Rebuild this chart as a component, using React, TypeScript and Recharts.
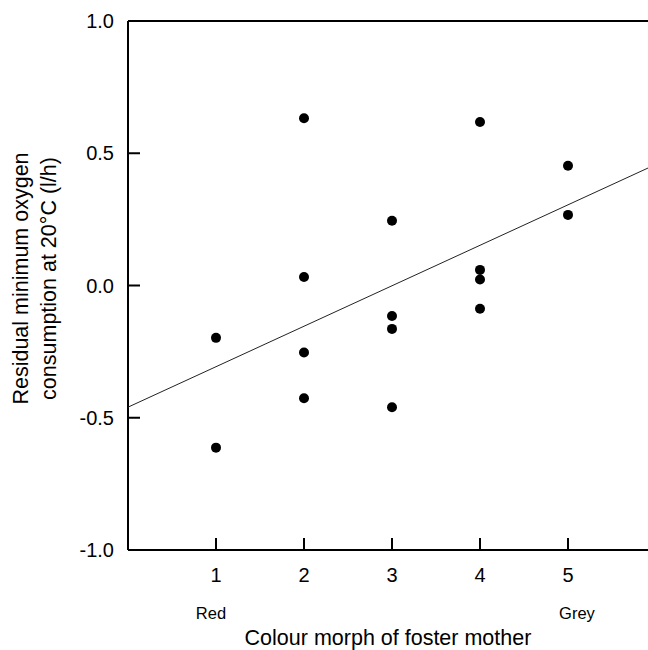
import React from 'react';
import { ComposedChart, XAxis, YAxis, Scatter, ReferenceLine, Label } from 'recharts';

// ---- data ----
const morphX: number[] = [1, 1, 2, 2, 2, 2, 3, 3, 3, 3, 4, 4, 4, 4, 5, 5];
const residualO2: number[] = [
  -0.198, -0.613,
  0.632, 0.032, -0.253, -0.426,
  0.245, -0.115, -0.164, -0.46,
  0.618, 0.059, 0.023, -0.088,
  0.453, 0.267,
];
const trendX: number[] = [0, 6];
const trendY: number[] = [-0.46, 0.458];
const xTicks: number[] = [1, 2, 3, 4, 5];
const yTicks: number[] = [-1, -0.5, 0, 0.5, 1];
const morphNames: string[] = ['Red', '', '', '', 'Grey'];

const points = morphX.map((x, i) => ({ x, y: residualO2[i] }));
const trend = trendX.map((x, i) => ({ x, y: trendY[i] }));

// ---- styles ----
const FONT = '"Liberation Sans", Arial, Helvetica, sans-serif';
const nameDx: Record<string, number> = { Red: -5, Grey: 9 };

const XTick = (props: any) => {
  const { x, y, payload } = props;
  const v = payload.value as number;
  const name = morphNames[v - 1] || '';
  return (
    <g>
      <text x={x} y={y + 14} textAnchor="middle" fontFamily={FONT} fontSize={20} fill="#000">
        {String(v)}
      </text>
      {name ? (
        <text x={x + (nameDx[name] || 0)} y={y + 51} textAnchor="middle" fontFamily={FONT} fontSize={16.5} fill="#000">
          {name}
        </text>
      ) : null}
    </g>
  );
};

const YTitle = (props: any) => {
  const vb = props.viewBox || { x: 0, y: 0, width: 0, height: 0 };
  const cy = vb.y + vb.height / 2 - 7;
  return (
    <g>
      <text transform={`translate(28, ${cy}) rotate(-90)`} textAnchor="middle" fontFamily={FONT} fontSize={21.5} fill="#000">
        Residual minimum oxygen
      </text>
      <text transform={`translate(56, ${cy}) rotate(-90)`} textAnchor="middle" fontFamily={FONT} fontSize={21.5} fill="#000">
        consumption at 20°C (l/h)
      </text>
    </g>
  );
};

const XTitle = (props: any) => {
  const vb = props.viewBox || { x: 0, y: 0, width: 0, height: 0 };
  return (
    <text x={388} y={vb.y + 95} textAnchor="middle" fontFamily={FONT} fontSize={21.5} fill="#000">
      Colour morph of foster mother
    </text>
  );
};

const Dot = (props: any) => <circle cx={props.cx} cy={props.cy} r={5} fill="#000" />;
const NoDot = () => <g />;

export default function App() {
  return (
    <div style={{ position: 'absolute', left: 0, top: 0, width: 648, height: 650, overflow: 'hidden', background: '#fff' }}>
      <ComposedChart width={656} height={650} margin={{ top: 21, right: 0, bottom: 0, left: 0 }}>
        <XAxis
          dataKey="x"
          type="number"
          domain={[0, 6]}
          ticks={xTicks}
          allowDataOverflow
          height={100}
          axisLine={{ stroke: '#000', strokeWidth: 2 }}
          tickLine={{ stroke: '#000', strokeWidth: 2 }}
          tickSize={-12}
          tickMargin={30}
          tick={<XTick />}
        >
          <Label content={<XTitle />} />
        </XAxis>
        <YAxis
          dataKey="y"
          type="number"
          domain={[-1, 1]}
          ticks={yTicks}
          allowDataOverflow
          width={128}
          axisLine={{ stroke: '#000', strokeWidth: 2 }}
          tickLine={{ stroke: '#000', strokeWidth: 2 }}
          tickSize={-12}
          tickMargin={26}
          tickFormatter={(v: number) => v.toFixed(1)}
          tick={{ fill: '#000', fontSize: 20, fontFamily: FONT }}
        >
          <Label content={<YTitle />} />
        </YAxis>
        <ReferenceLine y={1} stroke="#000" strokeWidth={2} />
        <Scatter
          data={trend}
          line={{ stroke: '#222', strokeWidth: 1 }}
          shape={<NoDot />}
          isAnimationActive={false}
        />
        <Scatter data={points} shape={<Dot />} isAnimationActive={false} />
      </ComposedChart>
    </div>
  );
}
